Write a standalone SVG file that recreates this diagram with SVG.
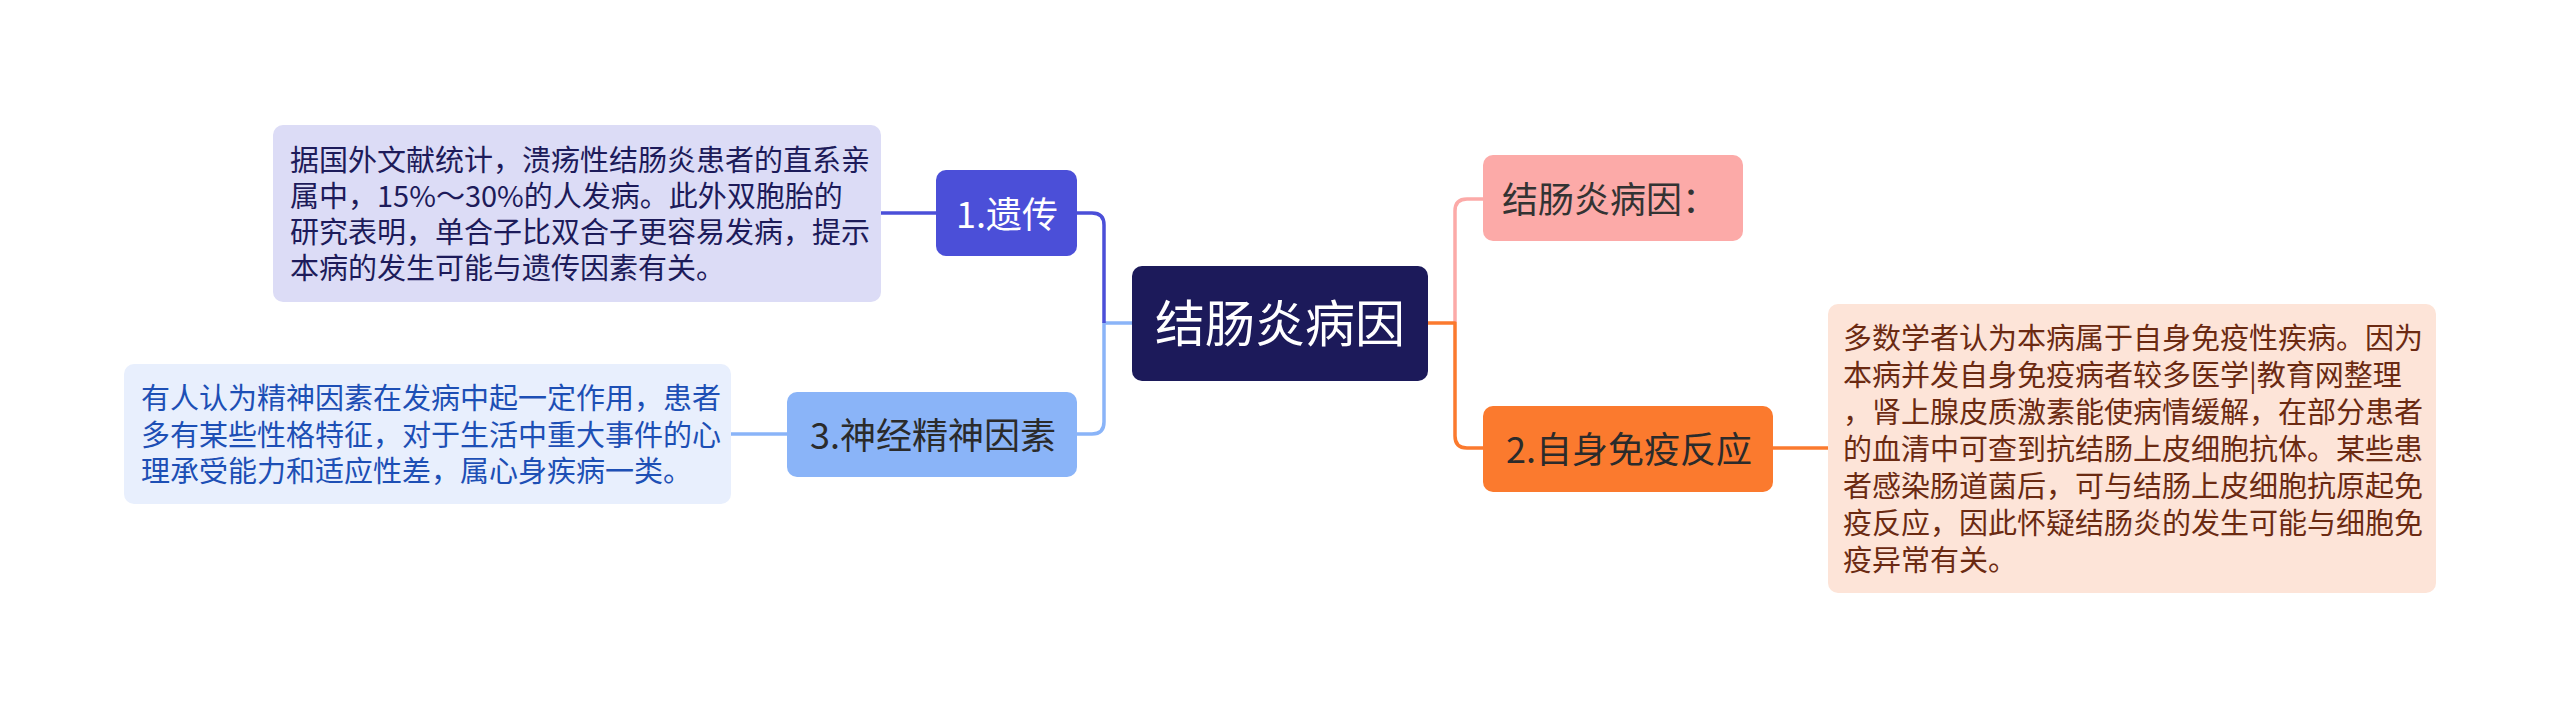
<svg xmlns="http://www.w3.org/2000/svg" width="2560" height="718" viewBox="0 0 2560 718">
<style>
text{font-family:"Noto Sans CJK SC","Noto Sans",sans-serif;}
.conn{fill:none;stroke-width:3.5;stroke-linecap:butt;stroke-linejoin:round;}
.t36{font-size:36px;}
.d{font-size:29px;}
</style>
<rect width="2560" height="718" fill="#ffffff"/>
<g id="connectors">
  <path class="conn" stroke="#8ab4f8" d="M1132,323 H1104 V422 Q1104,434 1092,434 H1077"/>
  <path class="conn" stroke="#4b4fd8" d="M1104,323 V225 Q1104,213 1092,213 H1077"/>
  <path class="conn" stroke="#4b4fd8" d="M936,213 H881"/>
  <path class="conn" stroke="#8ab4f8" d="M787,434 H731"/>
  <path class="conn" stroke="#fcaaa8" d="M1455,323 V211 Q1455,199 1467,199 H1483"/>
  <path class="conn" stroke="#fb7a2e" d="M1428,323 H1455 V436 Q1455,448 1467,448 H1483"/>
  <path class="conn" stroke="#fb7a2e" d="M1773,448 H1828"/>
</g>
<g id="root">
  <rect x="1132" y="266" width="296" height="115" rx="10" fill="#1c1a5a"/>
  <text x="1280" y="342" font-size="50" fill="#ffffff" text-anchor="middle">结肠炎病因</text>
</g>
<g id="n1">
  <rect x="936" y="170" width="141" height="86" rx="10" fill="#4b4fd8"/>
  <text class="t36" x="1007" y="228" fill="#ffffff" text-anchor="middle">1.遗传</text>
</g>
<g id="d1">
  <rect x="273" y="125" width="608" height="177" rx="10" fill="#dcdcf6"/>
  <text class="d" fill="#1d1b5a">
    <tspan x="290" y="170.5">据国外文献统计，溃疡性结肠炎患者的直系亲</tspan>
    <tspan x="290" y="206.5">属中，15%～30%的人发病。此外双胞胎的</tspan>
    <tspan x="290" y="242.5">研究表明，单合子比双合子更容易发病，提示</tspan>
    <tspan x="290" y="278.5">本病的发生可能与遗传因素有关。</tspan>
  </text>
</g>
<g id="n3">
  <rect x="787" y="392" width="290" height="85" rx="10" fill="#8ab4f8"/>
  <text class="t36" x="933" y="448.5" fill="#2b2b2b" text-anchor="middle">3.神经精神因素</text>
</g>
<g id="d3">
  <rect x="124" y="364" width="607" height="140" rx="10" fill="#e8effd"/>
  <text class="d" fill="#1d4fb5">
    <tspan x="141" y="409">有人认为精神因素在发病中起一定作用，患者</tspan>
    <tspan x="141" y="445.5">多有某些性格特征，对于生活中重大事件的心</tspan>
    <tspan x="141" y="482">理承受能力和适应性差，属心身疾病一类。</tspan>
  </text>
</g>
<g id="n0">
  <rect x="1483" y="155" width="260" height="86" rx="10" fill="#fcaaa8"/>
  <text class="t36" x="1502" y="213" fill="#333333">结肠炎病因：</text>
</g>
<g id="n2">
  <rect x="1483" y="406" width="290" height="86" rx="10" fill="#fb7a2e"/>
  <text class="t36" x="1629" y="462.5" fill="#2b2b2b" text-anchor="middle">2.自身免疫反应</text>
</g>
<g id="d2">
  <rect x="1828" y="304" width="608" height="289" rx="10" fill="#fde4d8"/>
  <text class="d" fill="#6b2a12">
    <tspan x="1843" y="349">多数学者认为本病属于自身免疫性疾病。因为</tspan>
    <tspan x="1843" y="386">本病并发自身免疫病者较多医学|教育网整理</tspan>
    <tspan x="1843" y="423">，肾上腺皮质激素能使病情缓解，在部分患者</tspan>
    <tspan x="1843" y="460">的血清中可查到抗结肠上皮细胞抗体。某些患</tspan>
    <tspan x="1843" y="497">者感染肠道菌后，可与结肠上皮细胞抗原起免</tspan>
    <tspan x="1843" y="534">疫反应，因此怀疑结肠炎的发生可能与细胞免</tspan>
    <tspan x="1843" y="571">疫异常有关。</tspan>
  </text>
</g>
</svg>
